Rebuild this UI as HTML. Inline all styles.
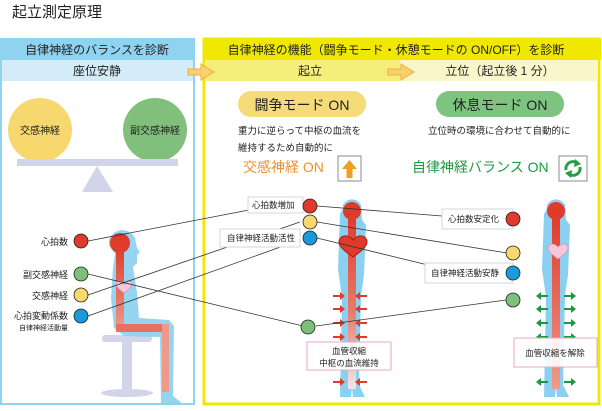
<!DOCTYPE html>
<html><head><meta charset="utf-8"><style>
body{margin:0;width:602px;height:406px;background:#fff;overflow:hidden}
svg text{font-family:"Liberation Sans","Noto Sans CJK JP",sans-serif;fill:#222}
</style></head><body>
<svg width="602" height="406" viewBox="0 0 602 406" xmlns="http://www.w3.org/2000/svg">
<defs>
<linearGradient id="g1" x1="0" y1="0" x2="0" y2="1"><stop offset="0" stop-color="#e03a2a"/><stop offset="0.55" stop-color="#e87a6a"/><stop offset="1" stop-color="#f4e4ea"/></linearGradient>
<linearGradient id="g2" x1="0" y1="0" x2="0" y2="1"><stop offset="0" stop-color="#e03a2a"/><stop offset="1" stop-color="#ee9a8a"/></linearGradient>
</defs>
<text x="12" y="17" font-size="15">起立測定原理</text>
<rect x="1" y="39" width="193" height="365" fill="#fff" stroke="#8fd3f0" stroke-width="2"/>
<rect x="0" y="38" width="195" height="22" fill="#8fd3f0"/>
<rect x="2" y="60" width="191" height="21" fill="#d4ecf8"/>
<text x="97" y="54" font-size="12" text-anchor="middle">自律神経のバランスを診断</text>
<text x="97" y="75" font-size="12" text-anchor="middle">座位安静</text>
<rect x="204" y="39" width="395" height="365" fill="#fff" stroke="#f0e800" stroke-width="3"/>
<rect x="203" y="38" width="398" height="22" fill="#f0e800"/>
<rect x="205" y="60" width="195" height="21" fill="#f6ee7a"/>
<rect x="400" y="60" width="198" height="21" fill="#faf6cc"/>
<text x="396" y="54" font-size="12" text-anchor="middle">自律神経の機能（闘争モード・休憩モードの ON/OFF）を診断</text>
<text x="310" y="75" font-size="12" text-anchor="middle">起立</text>
<text x="500" y="75" font-size="12" text-anchor="middle">立位（起立後 1 分）</text>
<polygon points="188,69 201,69 201,64 214,72 201,80 201,75 188,75" fill="#f8d070" stroke="#f0b030" stroke-width="1"/>
<polygon points="388,69 401,69 401,64 414,72 401,80 401,75 388,75" fill="#f8d070" stroke="#f0b030" stroke-width="1"/>
<circle cx="40" cy="130" r="32" fill="#f6d86e"/>
<circle cx="155" cy="130" r="32" fill="#80c07c"/>
<text x="40" y="134" font-size="10" text-anchor="middle">交感神経</text>
<text x="155" y="134" font-size="10" text-anchor="middle">副交感神経</text>
<rect x="17" y="159" width="161" height="7" fill="#d2d4ea"/>
<polygon points="97,166 82,192 113,192" fill="#d2d4ea"/>
<rect x="238" y="91" width="128" height="26" rx="13" fill="#f6dc78"/>
<text x="302" y="110" font-size="14" text-anchor="middle">闘争モード ON</text>
<rect x="436" y="91" width="128" height="26" rx="13" fill="#7dc480"/>
<text x="500" y="110" font-size="14" text-anchor="middle">休息モード ON</text>
<text x="238" y="134" font-size="9.5">重力に逆らって中枢の血流を</text>
<text x="238" y="151" font-size="9.5">維持するため自動的に</text>
<text x="428" y="134" font-size="9.5">立位時の環境に合わせて自動的に</text>
<text x="243" y="172" font-size="14" style="fill:#f09030">交感神経 ON</text>
<rect x="338" y="156" width="23" height="25" fill="#fff" stroke="#889" stroke-width="1"/>
<polygon points="349.5,160 357,169 352.5,169 352.5,178 346.5,178 346.5,169 342,169" fill="#f0a020"/>
<text x="412" y="172" font-size="14" style="fill:#1e9a40">自律神経バランス ON</text>
<rect x="559" y="156" width="28" height="25" fill="#fff" stroke="#889" stroke-width="1"/>
<path d="M566,170 a7,7 0 0 1 11,-7" stroke="#20a040" stroke-width="3" fill="none"/>
<polygon points="575,159 581,164 574,167" fill="#20a040"/>
<path d="M580,167 a7,7 0 0 1 -11,7" stroke="#20a040" stroke-width="3" fill="none"/>
<polygon points="571,178 565,173 572,170" fill="#20a040"/>
<!-- seated person -->
<rect x="102" y="335" width="50" height="7" rx="3" fill="#d2d4ea"/>
<rect x="122" y="340" width="10" height="52" fill="#d2d4ea"/>
<ellipse cx="127" cy="393" rx="26" ry="4" fill="#d2d4ea"/>
<path d="M109,240 a14,14 0 0 1 26,-2 l2,10 l3,4 l-3,3 l0,8 l-4,4 l4,25 l2,26 l30,2 l5,6 l-1,70 l10,8 l-22,1 l-1,-68 l-36,-1 l-10,-8 l-3,-30 l2,-30 l2,-14 l-6,-8 z" fill="#8ad0f0" opacity="0.9"/>
<circle cx="120" cy="243" r="10" fill="#e03a2a"/>
<rect x="116" y="245" width="8" height="86" fill="url(#g2)"/>
<rect x="116" y="324" width="52" height="8" fill="#e87060"/>
<rect x="162" y="324" width="7" height="68" fill="#ee9a8a"/>
<path d="M124,284 c-4,-5 -8,-3 -8,0 c0,3 4,6 8,9 c4,-3 8,-6 8,-9 c0,-3 -4,-5 -8,0z" fill="#f4c8dc" stroke="#e090b0" stroke-width="0.8"/>
<g font-size="9" text-anchor="end">
<text x="68" y="245">心拍数</text><text x="68" y="278">副交感神経</text><text x="68" y="299">交感神経</text><text x="68" y="319">心拍変動係数</text>
<text x="68" y="330" font-size="7">自律神経活動量</text></g>
<g stroke="#222" stroke-width="0.8">
<circle cx="81" cy="241" r="7" fill="#e03a2a"/><circle cx="81" cy="274" r="7" fill="#7dc07a"/><circle cx="81" cy="295" r="7" fill="#f6d86e"/><circle cx="81" cy="316" r="7" fill="#1a9ad8"/>
</g>
<g>
<path d="M343,205 a10,10 0 0 1 18,0 l1,15 l4,5 l-2,50 l-3,20 l-2,90 l6,12 l-12,0 l-1,-10 l-1,10 l-11,0 l2,-100 l-4,-28 l2,-55 l3,-6 z" fill="#8ad0f0"/>
<circle cx="352" cy="211" r="9" fill="#e03a2a"/>
<rect x="348" y="214" width="8" height="175" fill="url(#g1)"/>
<path d="M353,240 c-6,-7 -14,-4 -14,2 c0,5 7,10 14,15 c7,-5 14,-10 14,-15 c0,-6 -8,-9 -14,-2z" fill="#e03a2a" stroke="#a02018" stroke-width="1"/>
<path d="M547,205 a10,10 0 0 1 18,0 l1,15 l4,5 l-2,50 l-3,20 l-2,90 l6,12 l-12,0 l-1,-10 l-1,10 l-11,0 l2,-100 l-4,-28 l2,-55 l3,-6 z" fill="#8ad0f0"/>
<circle cx="556" cy="211" r="9" fill="#e03a2a"/>
<rect x="552" y="214" width="8" height="175" fill="url(#g2)"/>
<path d="M558,247 c-5,-5 -10,-3 -10,1 c0,4 5,7 10,11 c5,-4 10,-7 10,-11 c0,-4 -5,-6 -10,-1z" fill="#f4c8dc" stroke="#e090b0" stroke-width="0.8"/>
</g>
<g fill="#e03a2a">
<g id="ra"><polygon points="333,295 340,295 340,292 345,296 340,300 340,297 333,297"/><polygon points="367,295 360,295 360,292 355,296 360,300 360,297 367,297"/></g>
<use href="#ra" y="13"/><use href="#ra" y="27"/><use href="#ra" y="41"/><use href="#ra" y="86"/>
</g>
<g fill="#1a9a40">
<g id="ga"><polygon points="548,295 541,295 541,292 536,296 541,300 541,297 548,297"/><polygon points="564,295 571,295 571,292 576,296 571,300 571,297 564,297"/></g>
<use href="#ga" y="13"/><use href="#ga" y="27"/><use href="#ga" y="41"/><use href="#ga" y="86"/>
</g>
<g stroke="#333" stroke-width="0.8" fill="none">
<line x1="88" y1="241" x2="249" y2="210"/>
<line x1="88" y1="274" x2="303" y2="326"/>
<line x1="88" y1="295" x2="300" y2="222"/>
<line x1="88" y1="316" x2="300" y2="240"/>
<line x1="317" y1="206" x2="442" y2="216"/>
<line x1="317" y1="222" x2="507" y2="253"/>
<line x1="317" y1="238" x2="428" y2="265"/>
<line x1="316" y1="326" x2="506" y2="300"/>
</g>
<g fill="#fff" stroke="#d0d4e4" stroke-width="1">
<rect x="248" y="197" width="55" height="16"/><rect x="220" y="229" width="80" height="18"/>
<rect x="442" y="209" width="71" height="20"/><rect x="425" y="263" width="88" height="20"/>
</g>
<g font-size="8.5">
<text x="252" y="208">心拍数増加</text><text x="227" y="241">自律神経活動活性</text>
<text x="448" y="222">心拍数安定化</text><text x="431" y="276">自律神経活動安静</text></g>
<g stroke="#222" stroke-width="0.8">
<circle cx="310" cy="206" r="7" fill="#e03a2a"/><circle cx="310" cy="222" r="7" fill="#f6d86e"/><circle cx="310" cy="238" r="7" fill="#1a9ad8"/><circle cx="308" cy="327" r="7" fill="#7dc07a"/>
<circle cx="513" cy="219" r="7" fill="#e03a2a"/><circle cx="513" cy="253" r="7" fill="#f6d86e"/><circle cx="513" cy="273" r="7" fill="#1a9ad8"/><circle cx="513" cy="300" r="7" fill="#7dc07a"/>
</g>
<rect x="307" y="342" width="84" height="28" fill="#fff" fill-opacity="0.9" stroke="#e8a8c8"/>
<text x="349" y="354" font-size="8.5" text-anchor="middle">血管収縮</text>
<text x="349" y="366" font-size="8.5" text-anchor="middle">中枢の血流維持</text>
<rect x="514" y="338" width="83" height="29" fill="#fff" fill-opacity="0.9" stroke="#e8a8c8"/>
<text x="555" y="356" font-size="8.5" text-anchor="middle">血管収縮を解除</text>
</svg>
</body></html>
